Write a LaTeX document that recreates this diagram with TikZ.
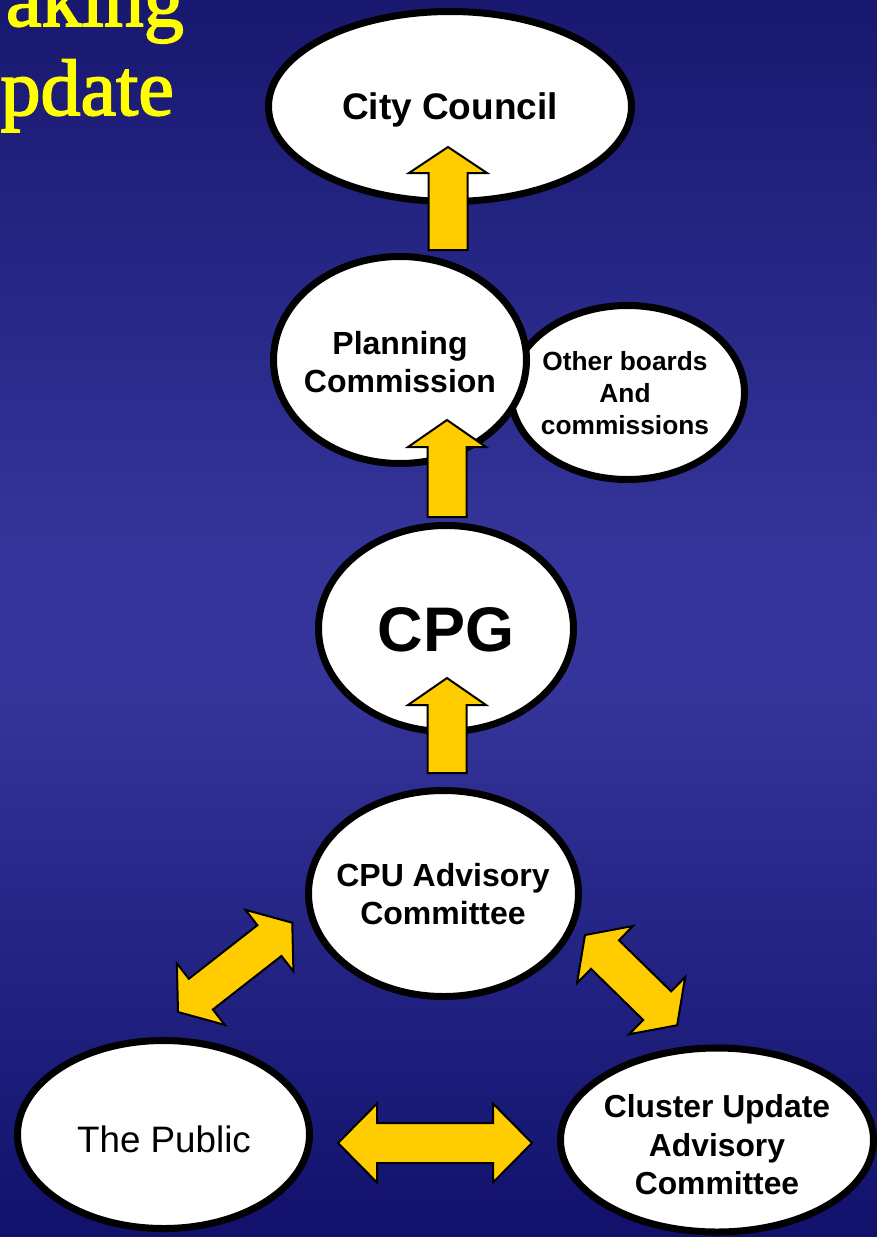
\documentclass[tikz,border=0pt]{standalone}
\usepackage{fontspec}
\setmainfont{Liberation Serif}
\newfontfamily\arialf{Liberation Sans}
\newfontfamily\titlef{Liberation Serif}[FakeBold=2.1]
\usetikzlibrary{shapes.geometric}
\definecolor{bgtop}{RGB}{24,24,112}
\definecolor{bgmid}{RGB}{52,52,154}
\definecolor{bgbot}{RGB}{17,17,108}
\definecolor{gold}{RGB}{255,204,0}
\definecolor{titleyellow}{RGB}{255,255,0}
\pgfdeclareverticalshading{bgshade}{100bp}{color(0bp)=(bgbot); color(25bp)=(bgbot); color(47bp)=(bgmid); color(53bp)=(bgmid); color(75bp)=(bgtop); color(100bp)=(bgtop)}
\tikzset{
  bubble/.style={ellipse, draw=black, fill=white, line width=7pt, inner sep=0pt},
  lbl/.style={font=\arialf\bfseries\fontsize{32}{38}\selectfont, align=center, text=black, inner sep=0pt},
  barrow/.style={draw=black, fill=gold, line width=2pt, line join=miter},
  title/.style={anchor=base east, text=titleyellow, font=\titlef\fontsize{80}{80}\selectfont, inner sep=0pt},
}
% single block arrow: tail point, angle, length, head length
\newcommand\sarr[4]{\draw[barrow, shift={(#1)}, rotate=#2]
  (0,-19.5) -- ({#3-#4},-19.5) -- ({#3-#4},-39) -- (#3,0) -- ({#3-#4},39) -- ({#3-#4},19.5) -- (0,19.5) -- cycle;}
% double block arrow: tip point, angle, length, head length, head half width, shaft half width
\newcommand\darr[6]{\draw[barrow, shift={(#1)}, rotate=#2]
  (0,0) -- (#4,-#5) -- (#4,-#6) -- ({#3-#4},-#6) -- ({#3-#4},-#5) -- (#3,0)
  -- ({#3-#4},#5) -- ({#3-#4},#6) -- (#4,#6) -- (#4,#5) -- cycle;}
\begin{document}
\begin{tikzpicture}[x=1pt,y=-1pt]
\shade[shading=bgshade] (0,0) rectangle (877,1237);
\useasboundingbox (0,0) rectangle (877,1237);

% title fragments
\node[title] (t1) at (184,26) {aking};
\node[title] (t2) at (174,115) {pdate};

% bubbles
\node[bubble, minimum width=363pt, minimum height=190pt] (cc) at (450,106.5) {};
\node[bubble, minimum width=234pt, minimum height=174pt] (ob) at (627.5,392.5) {};
\node[bubble, minimum width=253pt, minimum height=207pt] (pc) at (400,360) {};
\node[bubble, minimum width=255pt, minimum height=206pt] (cpg) at (446,628.5) {};
\node[bubble, minimum width=270pt, minimum height=206pt] (cpu) at (443.5,893.5) {};
\node[bubble, minimum width=292pt, minimum height=188pt] (pub) at (163.5,1134.5) {};
\node[bubble, minimum width=313pt, minimum height=184pt] (cl) at (717,1140) {};

% labels
\node[lbl, font=\arialf\bfseries\fontsize{37}{44}\selectfont] (lcc) at (450,110) {City Council};
\node[lbl] (lpc) at (400,362) {Planning\\Commission};
\node[lbl, font=\arialf\bfseries\fontsize{26.3}{32}\selectfont] (lob) at (625,393) {Other boards\\And\\commissions};
\node[lbl, font=\arialf\bfseries\fontsize{63}{70}\selectfont] (lcpg) at (446,630) {CPG};
\node[lbl] (lcpu) at (443,894.5) {CPU Advisory\\Committee};
\node[lbl, font=\arialf\fontsize{36.8}{44}\selectfont] (lpub) at (164,1139) {The Public};
\node[lbl, font=\arialf\bfseries\fontsize{31.8}{38.5}\selectfont] (lcl) at (717,1145) {Cluster Update\\Advisory\\Committee};

% arrows
\coordinate (a1) at (448,250);
\coordinate (a2) at (447,517);
\coordinate (a3) at (447,773);
\coordinate (d1) at (178,1012);
\coordinate (d2) at (585,935);
\coordinate (d3) at (338,1143);
\sarr{a1}{90}{103}{26}
\sarr{a2}{90}{97}{27}
\sarr{a3}{90}{95}{27}
\darr{d1}{38}{145}{29}{39}{19.5}
\darr{d2}{-44.4}{129}{28}{40}{20}
\darr{d3}{0}{194}{39}{39.5}{20}
\end{tikzpicture}
\end{document}
